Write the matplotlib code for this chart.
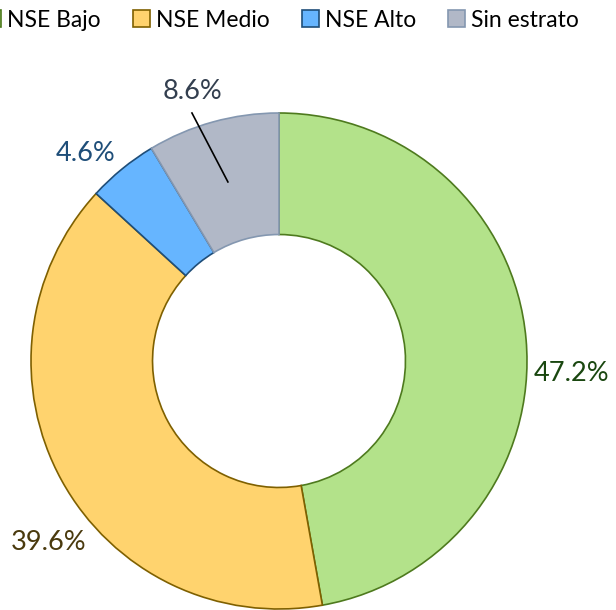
import matplotlib
matplotlib.use("Agg")
import matplotlib.pyplot as plt
from matplotlib.patches import Patch

# --- datos ---
categorias = ["NSE Bajo", "NSE Medio", "NSE Alto", "Sin estrato"]
porcentajes = [47.2, 39.6, 4.6, 8.6]
relleno = ["#B3E28A", "#FFD36E", "#66B5FF", "#B1B8C7"]
borde = ["#4E7A1E", "#7F6000", "#1F4E79", "#8497B0"]
color_texto = ["#1A4710", "#4A3A0E", "#1F4E79", "#333F4F"]

plt.rcParams["font.family"] = ["Lato", "DejaVu Sans"]

W, H = 616, 610
fig = plt.figure(figsize=(W / 100, H / 100), dpi=100)

# centro y radio del anillo en píxeles
cx, cy, r = 279, 361, 248
ax = fig.add_axes([(cx - r) / W, (H - cy - r) / H, 2 * r / W, 2 * r / H])

wedges, _ = ax.pie(porcentajes, colors=relleno, startangle=90, counterclock=False,
                   radius=1.0, wedgeprops=dict(width=0.49, linewidth=1.2))
for w, ec in zip(wedges, borde):
    w.set_edgecolor(ec)
    w.set_clip_on(False)
# pie() fija sus propios límites: se reajustan después
ax.set_xlim(-1, 1); ax.set_ylim(-1, 1)
ax.set_aspect("equal"); ax.axis("off")

# posiciones de las etiquetas (coordenadas de datos)
pos_etq = [(1.18, -0.05), (-0.93, -0.73), (-0.78, 0.835), (-0.35, 1.085)]
for v, (x, y), c in zip(porcentajes, pos_etq, color_texto):
    ax.text(x, y, f"{v:.1f}%", ha="center", va="center", fontsize=19.5, color=c,
            clip_on=False)
# línea guía de "Sin estrato"
ax.plot([-0.351, -0.206], [1.0, 0.722], color="black", lw=1.2, clip_on=False)

handles = [Patch(facecolor=f, edgecolor=e, linewidth=1.2) for f, e in zip(relleno, borde)]
fig.legend(handles, categorias, loc="center", bbox_to_anchor=(0.457, 0.967), ncol=4,
           frameon=False, fontsize=16.5, handlelength=0.75, handleheight=0.75,
           handletextpad=0.25, columnspacing=1.4, borderpad=0)

fig.savefig("out.png", dpi=100)
